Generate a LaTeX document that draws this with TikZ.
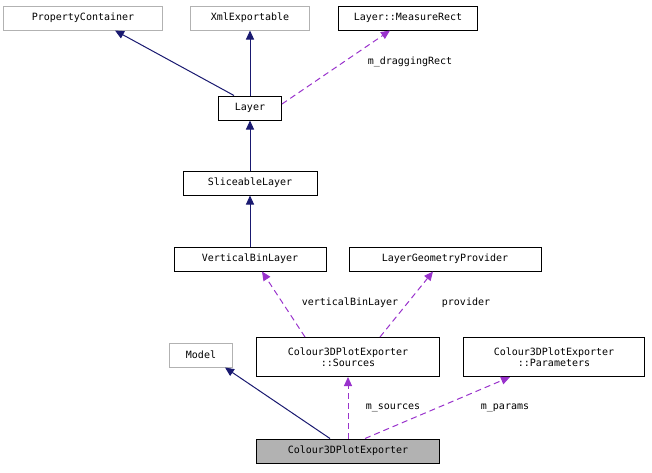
\documentclass[tikz,border=0pt]{standalone}
\usepackage{fontspec}
\setmonofont{DejaVu Sans Mono}
\usetikzlibrary{arrows.meta}
\begin{document}
\begin{tikzpicture}[x=1pt,y=-1pt,
 box/.style={draw=black,fill=white,font=\ttfamily\fontsize{10}{11.5}\selectfont,inner sep=0pt,align=center,line width=1pt},
 gbox/.style={box,draw=gray!60},
 inh/.style={draw={rgb,255:red,25;green,25;blue,112},line width=1pt,-{Triangle[length=9pt,width=8pt]}},
 use/.style={draw={rgb,255:red,153;green,50;blue,204},line width=1pt,dash pattern=on 6pt off 4pt,-{Triangle[length=9pt,width=8pt]}},
 lab/.style={font=\ttfamily\fontsize{10}{11.5}\selectfont}]
\useasboundingbox (0,0) rectangle (652,472);
\node[gbox,minimum width=159,minimum height=24] (pc) at (83,18) {PropertyContainer};
\node[gbox,minimum width=119,minimum height=24] (xe) at (250,18) {XmlExportable};
\node[box,minimum width=139,minimum height=24] (mr) at (408,18) {Layer::MeasureRect};
\node[box,minimum width=63,minimum height=24] (ly) at (250,108) {Layer};
\node[box,minimum width=134,minimum height=24] (sl) at (250,183) {SliceableLayer};
\node[box,minimum width=152,minimum height=24] (vb) at (250,259) {VerticalBinLayer};
\node[box,minimum width=192,minimum height=24] (lg) at (445,259) {LayerGeometryProvider};
\node[gbox,minimum width=63,minimum height=24] (md) at (201,355) {Model};
\node[box,minimum width=183,minimum height=39] (so) at (348,357) {Colour3DPlotExporter\\::Sources};
\node[box,minimum width=181,minimum height=39] (pa) at (554,357) {Colour3DPlotExporter\\::Parameters};
\node[box,fill=gray!60,minimum width=183,minimum height=24] (ex) at (348,451) {Colour3DPlotExporter};
\draw[inh] (ly.north west) ++(16,0) coordinate (a1) -- (pc.south -| 115,0);
\draw[inh] (ly.north) -- (xe.south);
\draw[use] (ly.east) ++(0,-4) coordinate (a2) -- (mr.south -| 390,0);
\node[lab] at (410,62) {m\_draggingRect};
\draw[inh] (sl.north) -- (ly.south);
\draw[inh] (vb.north) -- (sl.south);
\coordinate (s1) at ([xshift=-43]so.north);
\coordinate (s2) at ([xshift=32]so.north);
\draw[use] (s1) -- (vb.south -| 262,0);
\draw[use] (s2) -- (lg.south -| 433,0);
\node[lab] at (350,303) {verticalBinLayer};
\node[lab] at (466,303) {provider};
\coordinate (e1) at ([xshift=-18]ex.north);
\coordinate (e2) at ([xshift=17]ex.north);
\draw[inh] (e1) -- (md.south -| 225,0);
\draw[use] (ex.north) -- (so.south);
\draw[use] (e2) -- (pa.south -| 510,0);
\node[lab] at (393,408) {m\_sources};
\node[lab] at (505,408) {m\_params};
\end{tikzpicture}
\end{document}
